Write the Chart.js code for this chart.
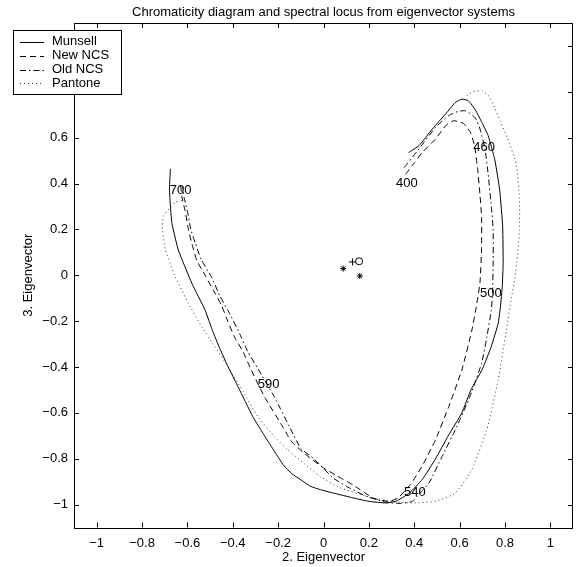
<!DOCTYPE html>
<html><head><meta charset="utf-8">
<script src="https://cdn.jsdelivr.net/npm/chart.js@4/dist/chart.umd.min.js"></script>
<style>html,body{margin:0;padding:0;background:#fff;}</style>
</head><body>
<canvas id="c" width="578" height="567"></canvas>
<script>
const titleText = "Chromaticity diagram and spectral locus from eigenvector systems";
const xAxisTitle = "2. Eigenvector";
const yAxisTitle = "3. Eigenvector";
const xTicks = [-1,-0.8,-0.6,-0.4,-0.2,0,0.2,0.4,0.6,0.8,1];
const yTicks = [-1,-0.8,-0.6,-0.4,-0.2,0,0.2,0.4,0.6,0.8,1];
const seriesNames = ["Munsell","New NCS","Old NCS","Pantone"];

const munsellX = [0.375,0.421,0.48,0.538,0.581,0.61,0.639,0.67,0.698,0.726,0.755,0.777,0.79,0.792,0.788,0.78,0.77,0.74,0.70,0.65,0.61,0.55,0.494,0.436,0.378,0.32,0.276,0.20,0.131,0.044,-0.014,-0.058,-0.10,-0.14,-0.175,-0.215,-0.26,-0.31,-0.345,-0.38,-0.42,-0.457,-0.49,-0.522,-0.58,-0.64,-0.668,-0.675,-0.679,-0.675];
const munsellY = [0.535,0.565,0.638,0.703,0.753,0.768,0.761,0.72,0.667,0.609,0.505,0.37,0.21,0.05,-0.05,-0.138,-0.21,-0.31,-0.41,-0.50,-0.60,-0.70,-0.80,-0.89,-0.95,-0.985,-0.993,-0.986,-0.971,-0.95,-0.935,-0.92,-0.892,-0.865,-0.83,-0.77,-0.70,-0.62,-0.55,-0.48,-0.40,-0.32,-0.24,-0.152,-0.036,0.11,0.225,0.30,0.377,0.464];

const newNcsX = [0.362,0.40,0.436,0.494,0.538,0.574,0.617,0.647,0.666,0.68,0.69,0.697,0.697,0.69,0.675,0.654,0.61,0.552,0.494,0.436,0.385,0.33,0.29,0.22,0.131,0.06,0.0,-0.087,-0.145,-0.174,-0.26,-0.32,-0.355,-0.392,-0.421,-0.45,-0.486,-0.522,-0.559,-0.58,-0.595,-0.61,-0.624,-0.631];
const newNcsY = [0.44,0.49,0.536,0.594,0.652,0.674,0.662,0.625,0.565,0.46,0.35,0.25,0.12,-0.03,-0.13,-0.24,-0.413,-0.573,-0.717,-0.83,-0.91,-0.97,-0.986,-0.972,-0.915,-0.875,-0.84,-0.775,-0.72,-0.67,-0.53,-0.41,-0.333,-0.27,-0.203,-0.13,-0.065,0.0,0.065,0.138,0.196,0.28,0.34,0.405];

const oldNcsX = [0.356,0.421,0.494,0.552,0.595,0.625,0.668,0.69,0.712,0.726,0.74,0.748,0.748,0.745,0.74,0.72,0.697,0.64,0.581,0.523,0.465,0.42,0.392,0.34,0.276,0.189,0.1,0.044,-0.043,-0.10,-0.13,-0.217,-0.29,-0.334,-0.37,-0.414,-0.457,-0.494,-0.54,-0.565,-0.585,-0.60,-0.615,-0.62];
const oldNcsY = [0.47,0.551,0.645,0.696,0.715,0.717,0.688,0.638,0.551,0.44,0.30,0.196,0.05,-0.08,-0.152,-0.27,-0.384,-0.543,-0.674,-0.79,-0.906,-0.955,-0.986,-0.995,-0.99,-0.964,-0.92,-0.885,-0.80,-0.755,-0.70,-0.53,-0.406,-0.333,-0.254,-0.167,-0.09,-0.007,0.07,0.14,0.2,0.28,0.34,0.39];

const pantoneX = [0.632,0.66,0.698,0.73,0.755,0.78,0.81,0.85,0.864,0.864,0.855,0.843,0.828,0.806,0.77,0.72,0.654,0.581,0.494,0.40,0.305,0.22,0.073,-0.015,-0.087,-0.16,-0.217,-0.29,-0.355,-0.421,-0.479,-0.537,-0.595,-0.653,-0.697,-0.711,-0.704,-0.653,-0.617];
const pantoneY = [0.783,0.80,0.804,0.78,0.73,0.67,0.60,0.486,0.34,0.196,0.08,-0.02,-0.10,-0.24,-0.457,-0.674,-0.848,-0.95,-0.986,-0.993,-0.988,-0.972,-0.927,-0.877,-0.82,-0.76,-0.703,-0.616,-0.507,-0.40,-0.31,-0.225,-0.123,-0.007,0.11,0.217,0.26,0.319,0.326];

const markerX = [0.087,0.128,0.157,0.16];
const markerY = [0.029,0.058,0.061,-0.003];
const markerShapes = ['star','cross','circle','star'];

const waveLabels = ['400','460','500','540','590','700'];
const waveX = [0.32,0.66,0.69,0.355,-0.29,-0.678];
const waveY = [0.40,0.557,-0.078,-0.948,-0.478,0.37];

const FONT = '13px "Liberation Sans", Arial, Helvetica, sans-serif';
const zip = (xs, ys) => xs.map((x, i) => ({x, y: ys[i]}));
const fmt = v => { const r = Math.round(v * 10) / 10; return (r < 0 ? '\u2212' : '') + Math.abs(r).toString(); };

const styles = [
  {dash: [], color: '#000'},
  {dash: [6, 4], color: '#000'},
  {dash: [6, 3, 1.5, 3], color: '#000'},
  {dash: [1, 3], color: '#333'}
];
const seriesData = [zip(munsellX, munsellY), zip(newNcsX, newNcsY), zip(oldNcsX, oldNcsY), zip(pantoneX, pantoneY)];

const datasets = seriesData.map((d, i) => ({
  label: seriesNames[i], data: d, showLine: true, fill: false,
  borderColor: styles[i].color, borderWidth: 1, borderDash: styles[i].dash,
  pointRadius: 0, tension: 0.15
}));
datasets.push({
  label: 'markers', data: zip(markerX, markerY), showLine: false,
  pointStyle: markerShapes, pointRadius: [3, 3.5, 3.5, 3], borderColor: '#000',
  backgroundColor: 'rgba(0,0,0,0)', borderWidth: 1
});

const decor = {
  id: 'decor',
  afterDraw(chart) {
    const {ctx, chartArea: a, scales: {x, y}} = chart;
    ctx.save();
    ctx.strokeStyle = '#000'; ctx.lineWidth = 1; ctx.setLineDash([]);
    ctx.strokeRect(Math.round(a.left) + 0.5, Math.round(a.top) + 0.5, Math.round(a.right - a.left) - 1, Math.round(a.bottom - a.top));
    const tl = 5;
    ctx.beginPath();
    xTicks.forEach(v => { const px = Math.round(x.getPixelForValue(v)) + 0.5;
      ctx.moveTo(px, a.bottom); ctx.lineTo(px, a.bottom - tl);
      ctx.moveTo(px, a.top); ctx.lineTo(px, a.top + tl); });
    yTicks.forEach(v => { const py = Math.round(y.getPixelForValue(v)) + 0.5;
      ctx.moveTo(a.left, py); ctx.lineTo(a.left + tl, py);
      ctx.moveTo(a.right, py); ctx.lineTo(a.right - tl, py); });
    ctx.stroke();
    ctx.fillStyle = '#000'; ctx.font = FONT;
    ctx.textAlign = 'left'; ctx.textBaseline = 'middle';
    waveLabels.forEach((t, i) => ctx.fillText(t, x.getPixelForValue(waveX[i]), y.getPixelForValue(waveY[i])));
    ctx.textAlign = 'center';
    ctx.fillText(titleText, (a.left + a.right) / 2, 12);
    ctx.fillText(xAxisTitle, (a.left + a.right) / 2, 557);
    ctx.save(); ctx.translate(28, (a.top + a.bottom) / 2); ctx.rotate(-Math.PI / 2);
    ctx.fillText(yAxisTitle, 0, 0); ctx.restore();
    const L = 13.5, T = 30.5, W = 108, H = 64;
    ctx.fillStyle = '#fff'; ctx.fillRect(L, T, W, H);
    ctx.strokeStyle = '#000'; ctx.strokeRect(L, T, W, H);
    const rows = [41.7, 55.5, 69.5, 83.3];
    seriesNames.forEach((n, i) => {
      ctx.beginPath(); ctx.setLineDash(styles[i].dash); ctx.strokeStyle = styles[i].color;
      ctx.moveTo(20, Math.round(rows[i]) + 0.5); ctx.lineTo(44, Math.round(rows[i]) + 0.5); ctx.stroke();
      ctx.setLineDash([]); ctx.fillStyle = '#000'; ctx.textAlign = 'left';
      ctx.fillText(n, 52, rows[i]);
    });
    ctx.restore();
  }
};

new Chart(document.getElementById('c'), {
  type: 'scatter',
  data: {datasets},
  options: {
    responsive: false, animation: false, devicePixelRatio: 1,
    layout: {padding: {top: 23, right: 1, left: 0, bottom: 0}},
    plugins: {legend: {display: false}, title: {display: false}, tooltip: {enabled: false}},
    scales: {
      x: {type: 'linear', min: -1.1, max: 1.1,
        afterBuildTicks: s => { s.ticks = xTicks.map(v => ({value: v})); },
        afterFit: s => { s.height = 39.5; },
        ticks: {callback: fmt, font: {family: '"Liberation Sans", Arial, sans-serif', size: 13}, color: '#000', padding: 8, autoSkip: false, maxRotation: 0},
        grid: {display: true, drawOnChartArea: false, drawTicks: false, color: '#000'},
        border: {display: false}},
      y: {type: 'linear', min: -1.1, max: 1.1,
        afterBuildTicks: s => { s.ticks = yTicks.map(v => ({value: v})); },
        afterFit: s => { s.width = 74; },
        ticks: {callback: fmt, font: {family: '"Liberation Sans", Arial, sans-serif', size: 13}, color: '#000', padding: 6, autoSkip: false},
        grid: {display: true, drawOnChartArea: false, drawTicks: false, color: '#000'},
        border: {display: false}}
    }
  },
  plugins: [decor]
});
</script>
</body></html>
